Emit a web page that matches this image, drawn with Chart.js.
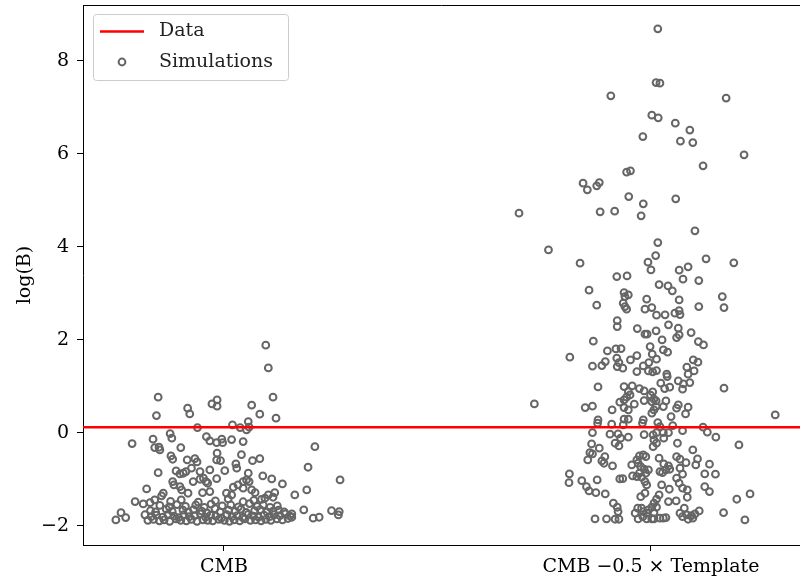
<!DOCTYPE html>
<html>
<head>
<meta charset="utf-8">
<script src="https://cdn.jsdelivr.net/npm/chart.js@4"></script>
<style>
  html, body { margin: 0; padding: 0; background: #fff; }
  canvas { display: block; }
</style>
</head>
<body>
<canvas id="chart" width="800" height="579"></canvas>
<script>
// categories on the x axis (positions 0 and 1)
const categories = ['CMB', 'CMB \u22120.5 \u00d7 Template'];
const yTicks = [-2, 0, 2, 4, 6, 8];

// observed value (red line)
const dataLogB = 0.12;

// simulations: [horizontal jitter, log(B)]
const cmbSims = [
  [0.098, 1.886], [0.104, 1.398], [-0.154, 0.768], [0.115, 0.768], [-0.016, 0.710], [-0.028, 0.624],
  [-0.016, 0.574], [-0.085, 0.531], [-0.080, 0.409], [0.065, 0.596], [-0.158, 0.372], [0.084, 0.402],
  [0.122, 0.316], [-0.062, 0.114], [0.020, 0.172], [0.038, 0.114], [0.057, 0.243], [0.059, 0.123],
  [0.053, 0.065], [-0.126, -0.015], [-0.122, -0.114], [-0.166, -0.135], [-0.041, -0.080], [-0.033, -0.172],
  [-0.005, -0.135], [-0.017, -0.209], [-0.003, -0.209], [0.018, -0.144], [0.045, -0.187], [-0.215, -0.230],
  [0.213, -0.295], [-0.162, -0.316], [-0.152, -0.308], [-0.101, -0.316], [-0.150, -0.366], [-0.124, -0.495],
  [-0.120, -0.566], [-0.086, -0.581], [-0.068, -0.553], [-0.063, -0.624], [-0.016, -0.437], [-0.017, -0.581],
  [-0.008, -0.596], [0.041, -0.467], [0.067, -0.596], [0.084, -0.553], [0.028, -0.667], [0.030, -0.759],
  [-0.076, -0.759], [-0.033, -0.796], [0.002, -0.811], [-0.154, -0.854], [-0.112, -0.817], [-0.103, -0.882],
  [-0.095, -0.867], [-0.089, -0.832], [-0.056, -0.832], [0.057, -0.867], [0.197, -0.738], [0.091, -0.925],
  [0.112, -0.989], [-0.072, -1.047], [-0.056, -0.996], [-0.042, -1.047], [-0.048, -0.974], [-0.038, -1.082],
  [-0.017, -0.983], [0.053, -1.011], [0.045, -1.047], [0.059, -1.047], [0.272, -1.011], [-0.120, -1.047],
  [-0.117, -1.118], [-0.103, -1.155], [-0.099, -1.226], [0.137, -1.097], [-0.181, -1.204], [-0.050, -1.284],
  [-0.033, -1.262], [0.033, -1.118], [0.022, -1.168], [0.045, -1.189], [0.065, -1.226], [0.073, -1.284],
  [0.006, -1.297], [0.018, -1.333], [0.194, -1.226], [0.166, -1.333], [-0.142, -1.297], [-0.146, -1.355],
  [-0.084, -1.297], [0.119, -1.284], [0.104, -1.333], [0.096, -1.404], [0.115, -1.383], [-0.208, -1.477],
  [-0.189, -1.527], [-0.173, -1.499], [-0.162, -1.441], [0.187, -1.656], [0.209, -1.834], [0.223, -1.813],
  [0.252, -1.671], [0.270, -1.692], [0.268, -1.763], [0.159, -1.742], [0.159, -1.813], [-0.241, -1.714],
  [-0.230, -1.821], [-0.253, -1.871],
  // dense band near the bottom
  [-0.178, -1.88], [-0.165, -1.86], [-0.151, -1.89], [-0.140, -1.87], [-0.127, -1.90], [-0.112, -1.85],
  [-0.101, -1.88], [-0.088, -1.89], [-0.076, -1.86], [-0.063, -1.90], [-0.049, -1.87], [-0.038, -1.88],
  [-0.026, -1.89], [-0.012, -1.86], [0.001, -1.88], [0.013, -1.90], [0.024, -1.87], [0.037, -1.89],
  [0.049, -1.85], [0.062, -1.88], [0.074, -1.87], [0.087, -1.89], [0.098, -1.86], [0.110, -1.88],
  [0.124, -1.85], [0.137, -1.87], [0.150, -1.84],
  [-0.185, -1.76], [-0.170, -1.80], [-0.158, -1.77], [-0.143, -1.81], [-0.131, -1.75], [-0.117, -1.79],
  [-0.106, -1.82], [-0.094, -1.76], [-0.081, -1.80], [-0.069, -1.78], [-0.055, -1.74], [-0.043, -1.81],
  [-0.031, -1.77], [-0.019, -1.79], [-0.006, -1.83], [0.007, -1.76], [0.019, -1.80], [0.031, -1.78],
  [0.044, -1.82], [0.057, -1.75], [0.069, -1.79], [0.081, -1.81], [0.094, -1.77], [0.107, -1.80],
  [0.118, -1.76], [0.131, -1.78], [0.144, -1.74], [0.155, -1.79],
  [-0.172, -1.67], [-0.160, -1.70], [-0.135, -1.64], [-0.121, -1.69], [-0.096, -1.66], [-0.083, -1.71],
  [-0.071, -1.65], [-0.052, -1.68], [-0.040, -1.72], [-0.021, -1.63], [-0.009, -1.70], [0.011, -1.66],
  [0.026, -1.69], [0.040, -1.64], [0.052, -1.71], [0.072, -1.67], [0.085, -1.65], [0.101, -1.70],
  [0.115, -1.68], [0.128, -1.66], [0.141, -1.70],
  [-0.150, -1.56], [-0.128, -1.59], [-0.110, -1.54], [-0.090, -1.58], [-0.066, -1.55], [-0.046, -1.60],
  [-0.030, -1.53], [-0.004, -1.57], [0.016, -1.55], [0.034, -1.59], [0.060, -1.52], [0.078, -1.58],
  [0.092, -1.55], [0.108, -1.60], [0.125, -1.57],
  [-0.125, -1.47], [-0.100, -1.44], [-0.060, -1.49], [-0.020, -1.46], [0.010, -1.42], [0.045, -1.48],
  [0.070, -1.45], [0.088, -1.43]
];

const templateSims = [
  [0.016, 8.688], [0.012, 7.533], [0.021, 7.520], [-0.094, 7.247], [0.176, 7.198], [0.002, 6.832],
  [0.017, 6.774], [0.057, 6.660], [0.091, 6.510], [-0.019, 6.372], [0.069, 6.273], [0.098, 6.243],
  [0.218, 5.978], [0.122, 5.742], [-0.057, 5.606], [-0.048, 5.634], [-0.159, 5.370], [-0.149, 5.226],
  [-0.127, 5.312], [-0.121, 5.383], [-0.052, 5.082], [-0.018, 4.925], [0.058, 5.032], [-0.309, 4.725],
  [-0.119, 4.753], [-0.085, 4.768], [-0.023, 4.667], [0.103, 4.344], [0.016, 4.092], [-0.240, 3.935],
  [0.011, 3.813], [-0.007, 3.671], [0.000, 3.505], [-0.166, 3.649], [0.129, 3.742], [0.194, 3.656],
  [0.066, 3.499], [0.087, 3.570], [0.075, 3.305], [0.112, 3.275], [-0.080, 3.361], [-0.056, 3.376],
  [-0.145, 3.069], [-0.063, 3.017], [-0.053, 2.968], [-0.061, 2.931], [0.019, 3.189], [0.040, 3.161],
  [0.050, 3.054], [-0.127, 2.746], [-0.065, 2.789], [-0.061, 2.716], [-0.057, 2.660], [-0.010, 2.875],
  [0.066, 2.860], [0.167, 2.931], [0.171, 2.695], [0.112, 2.716], [-0.014, 2.660], [0.002, 2.695],
  [0.013, 2.531], [0.033, 2.538], [0.056, 2.574], [0.066, 2.630], [0.068, 2.544], [-0.079, 2.415],
  [-0.079, 2.286], [-0.032, 2.243], [-0.014, 2.123], [-0.009, 2.123], [0.012, 2.194], [0.041, 2.323],
  [0.064, 2.252], [0.066, 2.108], [0.060, 2.049], [0.094, 2.157], [0.026, 2.000], [-0.135, 1.972],
  [0.111, 1.963], [0.123, 1.892], [-0.190, 1.628], [-0.102, 1.763], [-0.082, 1.806], [-0.070, 1.813],
  [-0.002, 1.856], [0.003, 1.692], [0.029, 1.785], [0.039, 1.735], [-0.033, 1.662], [-0.048, 1.570],
  [0.013, 1.585], [-0.080, 1.606], [-0.075, 1.512], [-0.079, 1.426], [-0.066, 1.391], [-0.107, 1.533],
  [-0.115, 1.447], [-0.137, 1.434], [-0.005, 1.512], [-0.018, 1.441], [-0.006, 1.333], [0.004, 1.312],
  [0.013, 1.340], [-0.033, 1.318], [0.099, 1.570], [0.110, 1.520], [0.084, 1.413], [0.101, 1.333],
  [0.087, 1.262], [0.037, 1.262], [0.038, 1.211], [0.064, 1.118], [0.076, 1.054], [0.074, 0.940],
  [0.091, 1.082], [0.023, 1.069], [0.032, 0.953], [0.044, 0.983], [-0.124, 0.989], [0.171, 0.961],
  [-0.063, 0.996], [-0.044, 1.011], [-0.027, 0.953], [-0.016, 0.903], [-0.053, 0.888], [-0.049, 0.817],
  [-0.057, 0.768], [0.004, 0.882], [-0.001, 0.811], [0.007, 0.725], [0.002, 0.673], [0.012, 0.688],
  [0.035, 0.688], [-0.016, 0.695], [-0.273, 0.624], [-0.154, 0.544], [-0.137, 0.574], [-0.073, 0.660],
  [-0.063, 0.710], [-0.091, 0.495], [-0.063, 0.544], [-0.053, 0.495], [-0.039, 0.617], [0.012, 0.566],
  [0.007, 0.495], [0.002, 0.424], [0.029, 0.566], [0.064, 0.602], [0.060, 0.531], [0.087, 0.553],
  [0.081, 0.409], [0.047, 0.351], [0.291, 0.387], [-0.124, 0.280], [-0.125, 0.209], [-0.092, 0.187],
  [-0.063, 0.295], [-0.053, 0.295], [-0.018, 0.280], [-0.020, 0.209], [0.016, 0.222], [0.051, 0.157],
  [0.122, 0.123], [-0.065, 0.172], [0.021, 0.135], [0.074, 0.049], [0.132, 0.015], [0.152, -0.092],
  [-0.137, 0.006], [-0.096, -0.028], [-0.077, -0.022], [-0.071, -0.114], [-0.053, -0.092], [-0.016, -0.037],
  [0.005, -0.043], [0.013, 0.006], [0.029, 0.006], [0.030, -0.114], [0.041, 0.006], [0.007, -0.151],
  [0.013, -0.222], [0.005, -0.295], [-0.084, -0.222], [-0.075, -0.280], [0.062, -0.222], [0.206, -0.258],
  [-0.139, -0.237], [-0.121, -0.329], [-0.143, -0.424], [-0.137, -0.452], [0.098, -0.366], [-0.108, -0.510],
  [-0.115, -0.602], [-0.110, -0.652], [-0.090, -0.710], [-0.148, -0.581], [-0.027, -0.495], [-0.018, -0.473],
  [-0.012, -0.510], [-0.033, -0.581], [0.019, -0.544], [0.060, -0.510], [0.068, -0.566], [0.109, -0.559],
  [0.082, -0.639], [0.105, -0.688], [0.137, -0.673], [-0.045, -0.688], [-0.030, -0.652], [-0.024, -0.725],
  [-0.016, -0.781], [-0.006, -0.796], [-0.012, -0.867], [0.030, -0.667], [0.041, -0.710], [0.035, -0.796],
  [0.027, -0.854], [0.021, -0.832], [0.044, -0.781], [0.068, -0.759], [-0.191, -0.882], [-0.192, -1.069],
  [-0.162, -1.026], [-0.151, -1.155], [-0.145, -1.247], [-0.126, -1.011], [-0.073, -0.989], [-0.066, -0.983],
  [-0.043, -0.925], [-0.033, -0.940], [-0.027, -0.867], [-0.022, -0.953], [-0.014, -1.047], [-0.010, -1.118],
  [0.025, -1.118], [0.043, -1.211], [0.060, -0.974], [0.066, -1.082], [0.074, -0.888], [0.074, -1.189],
  [0.085, -1.226], [0.085, -1.383], [0.126, -0.882], [0.151, -0.888], [0.126, -1.155], [0.137, -1.262],
  [-0.129, -1.284], [-0.107, -1.312], [-0.024, -1.370], [-0.014, -1.297], [0.019, -1.333], [0.013, -1.426],
  [0.007, -1.512], [0.041, -1.477], [0.059, -1.462], [-0.088, -1.512], [-0.079, -1.598], [-0.077, -1.692],
  [-0.031, -1.619], [-0.022, -1.619], [-0.018, -1.692], [-0.006, -1.656], [0.002, -1.598], [0.013, -1.598],
  [0.007, -1.714], [0.078, -1.619], [0.068, -1.727], [0.074, -1.800], [0.084, -1.763], [0.095, -1.778],
  [0.113, -1.677], [0.170, -1.714], [0.201, -1.426], [0.232, -1.312], [0.220, -1.871], [-0.131, -1.849],
  [-0.104, -1.849], [-0.084, -1.856], [-0.075, -1.856], [-0.030, -1.849], [-0.019, -1.800], [-0.010, -1.849],
  [0.002, -1.849], [0.007, -1.849], [0.029, -1.834], [0.035, -1.821], [0.087, -1.856], [0.098, -1.834],
  [-0.037, -1.727], [-0.010, -1.727], [0.021, -1.834], [0.103, -1.742]
];

const xMin = -0.330, xMax = 1.349;
const yMin = -2.41, yMax = 9.2;

const fontFamily = '"DejaVu Serif", serif';
const fontSize = 19;
const simColor = '#666666';

var simPoints = [];
cmbSims.forEach(p => simPoints.push({x: 0 + p[0], y: p[1]}));
templateSims.forEach(p => simPoints.push({x: 1 + p[0], y: p[1]}));

// scales must not ask for extra room, the plot area is fixed
function noPadding(scale) {
  scale.paddingTop = 0;
  scale.paddingBottom = 0;
  scale.paddingLeft = 0;
  scale.paddingRight = 0;
}

// top spine + matplotlib-like legend box
const framePlugin = {
  id: 'frame',
  afterDraw(chart) {
    const ctx = chart.ctx;
    const area = chart.chartArea;
    ctx.save();
    ctx.strokeStyle = '#000';
    ctx.lineWidth = 1;
    ctx.beginPath();
    ctx.moveTo(area.left, area.top + 0.5);
    ctx.lineTo(area.right, area.top + 0.5);
    ctx.stroke();

    // legend
    var bx = 93.5, by = 14.5, bw = 195, bh = 66;
    ctx.beginPath();
    ctx.roundRect(bx, by, bw, bh, 3);
    ctx.fillStyle = 'rgba(255,255,255,0.8)';
    ctx.fill();
    ctx.strokeStyle = '#cccccc';
    ctx.stroke();

    var sets = chart.data.datasets;
    ctx.strokeStyle = sets[0].borderColor;
    ctx.lineWidth = sets[0].borderWidth;
    ctx.beginPath();
    ctx.moveTo(100, 31.5);
    ctx.lineTo(144, 31.5);
    ctx.stroke();

    ctx.strokeStyle = sets[1].pointBorderColor;
    ctx.lineWidth = sets[1].pointBorderWidth;
    ctx.beginPath();
    ctx.arc(122, 62, sets[1].pointRadius, 0, Math.PI * 2);
    ctx.stroke();

    ctx.fillStyle = '#222';
    ctx.font = fontSize + 'px ' + fontFamily;
    ctx.textBaseline = 'middle';
    ctx.textAlign = 'left';
    ctx.fillText(sets[0].label, 159, 31);
    ctx.fillText(sets[1].label, 159, 62);
    ctx.restore();
  }
};

var ctx = document.getElementById('chart').getContext('2d');
var chart = new Chart(ctx, {
  type: 'scatter',
  data: {
    datasets: [
      {
        label: 'Data',
        data: [{x: xMin, y: dataLogB}, {x: xMax, y: dataLogB}],
        showLine: true,
        borderColor: '#ff0000',
        borderWidth: 2.5,
        pointRadius: 0
      },
      {
        label: 'Simulations',
        data: simPoints,
        pointRadius: 3.4,
        pointBorderWidth: 2,
        pointBorderColor: simColor,
        pointBackgroundColor: 'rgba(0,0,0,0)',
        borderColor: simColor,
        backgroundColor: 'rgba(0,0,0,0)'
      }
    ]
  },
  options: {
    responsive: false,
    animation: false,
    devicePixelRatio: 1,
    layout: { autoPadding: false, padding: { left: 0, right: 0, top: 5, bottom: 0 } },
    plugins: {
      legend: { display: false },
      tooltip: { enabled: false }
    },
    scales: {
      x: {
        type: 'linear',
        min: xMin,
        max: xMax,
        afterBuildTicks: scale => { scale.ticks = categories.map((c, i) => ({value: i})); },
        afterFit: scale => { scale.height = 34; noPadding(scale); },
        ticks: {
          color: '#000',
          padding: 5,
          font: { family: fontFamily, size: fontSize },
          callback: v => categories[v]
        },
        grid: { drawOnChartArea: false, color: '#000', tickLength: 6 },
        border: { display: true, color: '#000', width: 1 }
      },
      y: {
        min: yMin,
        max: yMax,
        afterBuildTicks: scale => { scale.ticks = yTicks.map(v => ({value: v})); },
        afterFit: scale => { scale.width = 83; noPadding(scale); },
        ticks: {
          color: '#000',
          padding: 8,
          font: { family: fontFamily, size: fontSize },
          callback: v => String(v).replace('-', '\u2212')
        },
        grid: { drawOnChartArea: false, color: '#000', tickLength: 6 },
        border: { display: true, color: '#000', width: 1 },
        title: {
          display: true,
          text: 'log(B)',
          color: '#000',
          padding: { top: 14, bottom: 0 },
          font: { family: fontFamily, size: fontSize }
        }
      }
    }
  },
  plugins: [framePlugin]
});
</script>
</body>
</html>
